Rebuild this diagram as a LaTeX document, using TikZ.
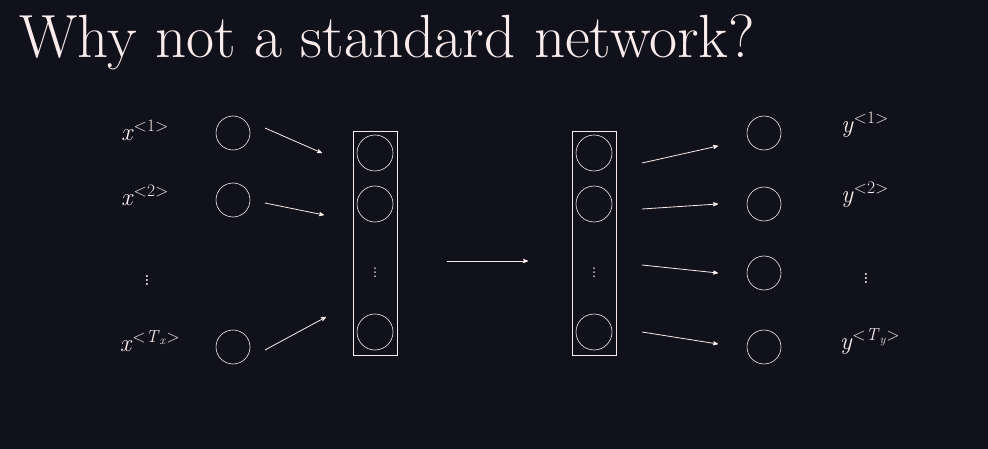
\documentclass[tikz,border=0pt]{standalone}
\usepackage{fontspec}
\usetikzlibrary{arrows,positioning}
\definecolor{colbg}{RGB}{17,17,27}
\definecolor{colfg}{RGB}{250,236,236}
\newcommand{\seqsym}[2]{\textit{#1}\textsuperscript{<#2>}}
\tikzset{
	>=stealth',
	unitnode/.style={circle, draw=colfg, semithick, minimum size=34pt, inner sep=0pt},
	layerbox/.style={draw=colfg, semithick, minimum width=44pt, minimum height=224pt, inner sep=0pt},
	flow/.style={->, thick, draw=colfg},
	seqlabel/.style={text=colfg, font=\fontsize{25}{30}\selectfont}
}

\begin{document}
\begin{tikzpicture}[x=1pt, y=-1pt]
	\fill[colbg] (0,0) rectangle (988,449);
	\useasboundingbox (0,0) rectangle (988,449);

	\node[text=colfg, anchor=base west, font=\fontsize{61}{70}\selectfont] (title) at (16,58) {Why not a standard network?};

	% inputs
	\node[seqlabel] (x1) at (145,130) {\seqsym{x}{1}};
	\node[seqlabel] (x2) at (145,195) {\seqsym{x}{2}};
	\node[seqlabel] (xd) at (147,277) {\vdots};
	\node[seqlabel] (xT) at (150,341) {\seqsym{x}{\textit{T}\textsubscript{\textit{x}}}};
	\node[unitnode] (i1) at (233,133) {};
	\node[unitnode] (i2) at (233,200) {};
	\node[unitnode] (iT) at (233,347) {};

	% hidden layers
	\node[layerbox] (boxl) at (375,243) {};
	\node[unitnode, minimum size=36pt] (l1) at (375,153) {};
	\node[unitnode, minimum size=36pt] (l2) at (375,204) {};
	\node[seqlabel, font=\fontsize{20}{24}\selectfont] (ld) at (375,270) {\vdots};
	\node[unitnode, minimum size=36pt] (lT) at (375,332) {};

	\node[layerbox] (boxr) at (594,243) {};
	\node[unitnode, minimum size=36pt] (r1) at (594,153) {};
	\node[unitnode, minimum size=36pt] (r2) at (594,204) {};
	\node[seqlabel, font=\fontsize{20}{24}\selectfont] (rd) at (594,270) {\vdots};
	\node[unitnode, minimum size=36pt] (rT) at (594,332) {};

	% outputs
	\node[unitnode] (o1) at (764,133) {};
	\node[unitnode] (o2) at (764,204) {};
	\node[unitnode] (o3) at (764,273) {};
	\node[unitnode] (oT) at (764,347) {};
	\node[seqlabel] (y1) at (865,125) {\seqsym{y}{1}};
	\node[seqlabel] (y2) at (865,195) {\seqsym{y}{2}};
	\node[seqlabel] (yd) at (866,275) {\vdots};
	\node[seqlabel] (yT) at (870,342) {\seqsym{y}{\textit{T}\textsubscript{\textit{y}}}};

	% arrows
	\coordinate (a1) at (265,128); \coordinate (b1) at (322,153);
	\coordinate (a2) at (265,203); \coordinate (b2) at (324,215);
	\coordinate (a3) at (265,350); \coordinate (b3) at (326,317);
	\coordinate (m1) at (447,261); \coordinate (m2) at (528,261);
	\coordinate (c1) at (642,163); \coordinate (d1) at (718,146);
	\coordinate (c2) at (642,209); \coordinate (d2) at (718,204);
	\coordinate (c3) at (642,265); \coordinate (d3) at (718,273);
	\coordinate (c4) at (642,332); \coordinate (d4) at (718,344);
	\draw[flow] (a1) -- (b1);
	\draw[flow] (a2) -- (b2);
	\draw[flow] (a3) -- (b3);
	\draw[flow] (m1) -- (m2);
	\draw[flow] (c1) -- (d1);
	\draw[flow] (c2) -- (d2);
	\draw[flow] (c3) -- (d3);
	\draw[flow] (c4) -- (d4);
\end{tikzpicture}
\end{document}
